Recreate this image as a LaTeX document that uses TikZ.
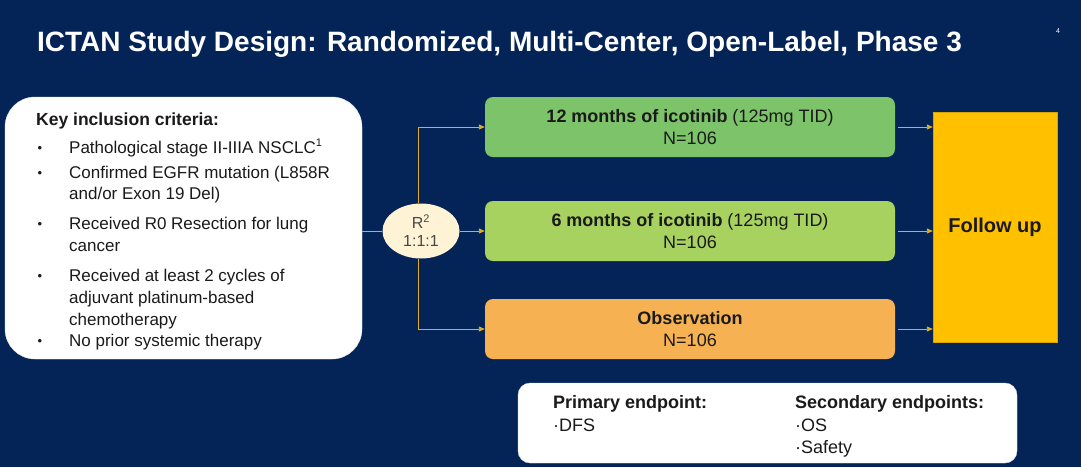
\documentclass[tikz,border=0pt]{standalone}
\usepackage{fontspec}
\setmainfont{Liberation Sans}
\usetikzlibrary{shapes.geometric,arrows.meta}
\definecolor{navy}{RGB}{4,36,88}
\definecolor{gA}{RGB}{125,195,105}
\definecolor{gB}{RGB}{168,210,96}
\definecolor{orng}{RGB}{246,178,82}
\definecolor{fuY}{RGB}{255,192,0}
\definecolor{cream}{RGB}{255,243,214}
\definecolor{gold}{RGB}{222,172,40}
\definecolor{txt}{RGB}{26,26,26}
\tikzset{
  armbox/.style={rounded corners=8pt, minimum width=410pt, minimum height=60pt, inner sep=0pt, align=center, font=\fontsize{18}{22}\selectfont, text=txt},
  crit/.style={anchor=base west, inner sep=0pt, font=\fontsize{17}{20}\selectfont, text=txt},
  bul/.style={anchor=center, inner sep=0pt, font=\fontsize{13}{16}\selectfont, text=txt},
  conn/.style={draw=gold, line width=0.9pt},
  arr/.style={conn, -{Triangle[length=6pt,width=5pt]}},
  ep/.style={anchor=base west, inner sep=0pt, font=\fontsize{18}{21}\selectfont, text=txt}
}
\begin{document}
\begin{tikzpicture}[x=1pt,y=-1pt]
\fill[navy] (0,0) rectangle (1081,467);
\useasboundingbox (0,0) rectangle (1081,467);
% title
\node[anchor=base west, inner sep=0pt, text=white, font=\bfseries\fontsize{28}{32}\selectfont] (title) at (37,51) {ICTAN Study Design: Randomized, Multi-Center, Open-Label, Phase 3};
\node[anchor=base, inner sep=0pt, text=white, font=\fontsize{7}{8}\selectfont] (pg) at (1058,33) {4};
% criteria box
\node[fill=white, draw=gray!20, rounded corners=30pt, minimum width=357pt, minimum height=262pt, inner sep=0pt] (cbox) at (183.5,228) {};
\node[crit, font=\bfseries\fontsize{17.5}{20}\selectfont] (kh) at (36,125) {Key inclusion criteria:};
\foreach \y/\t [count=\i] in {153/{Pathological stage II-IIIA NSCLC\textsuperscript{\fontsize{11}{12}\selectfont 1}},178/{Confirmed EGFR mutation (L858R},199/{and/or Exon 19 Del)},229/{Received R0 Resection for lung},251/{cancer},281/{Received at least 2 cycles of},303/{adjuvant platinum-based},325/{chemotherapy},346/{No prior systemic therapy}}{
  \node[crit] (c\i) at (69,\y) {\t};
}
\foreach \y [count=\i] in {153,178,229,281,346}{
  \node[bul] (b\i) at (40,\y-3.5) {•};
}
% randomization
\node[ellipse, fill=cream, minimum width=77pt, minimum height=55pt, inner sep=0pt, align=center, font=\fontsize{16}{19}\selectfont, text=txt!80] (r) at (421,231) {R\textsuperscript{\fontsize{11}{12}\selectfont 2}\\[-1pt]1:1:1};
% arms
\node[armbox, fill=gA] (a1) at (690,127) {\textbf{12 months of icotinib} (125mg TID)\\N=106};
\node[armbox, fill=gB] (a2) at (690,231) {\textbf{6 months of icotinib} (125mg TID)\\N=106};
\node[armbox, fill=orng] (a3) at (690,329) {\textbf{Observation}\\N=106};
% follow up
\node[fill=fuY, draw=fuY!85!black, line width=0.4pt, minimum width=124pt, minimum height=230pt, inner sep=0pt, font=\bfseries\fontsize{20}{24}\selectfont, text=txt] (fu) at (995,227) {Follow up};
% connectors
\draw[conn] (cbox.east |- r.west) -- (r.west);
\draw[arr] (r.north -| 418,0) |- (a1.west);
\draw[arr] (r.east) -- (a2.west);
\draw[arr] (r.south -| 418,0) |- (a3.west);
\draw[arr, shorten <=3pt] (a1.east) -- (fu.west |- a1.east);
\draw[arr, shorten <=3pt] (a2.east) -- (fu.west |- a2.east);
\draw[arr, shorten <=3pt] (a3.east) -- (fu.west |- a3.east);
% endpoints
\node[fill=white, draw=blue!15, rounded corners=12pt, minimum width=499pt, minimum height=80pt, inner sep=0pt] (ebox) at (767.5,423) {};
\node[ep, font=\bfseries\fontsize{18}{21}\selectfont] (p1) at (553,408) {Primary endpoint:};
\node[ep] (p2) at (553,431) {·DFS};
\node[ep, font=\bfseries\fontsize{18}{21}\selectfont] (s1) at (795,408) {Secondary endpoints:};
\node[ep] (s2) at (795,431) {·OS};
\node[ep] (s3) at (795,453) {·Safety};
\end{tikzpicture}
\end{document}
